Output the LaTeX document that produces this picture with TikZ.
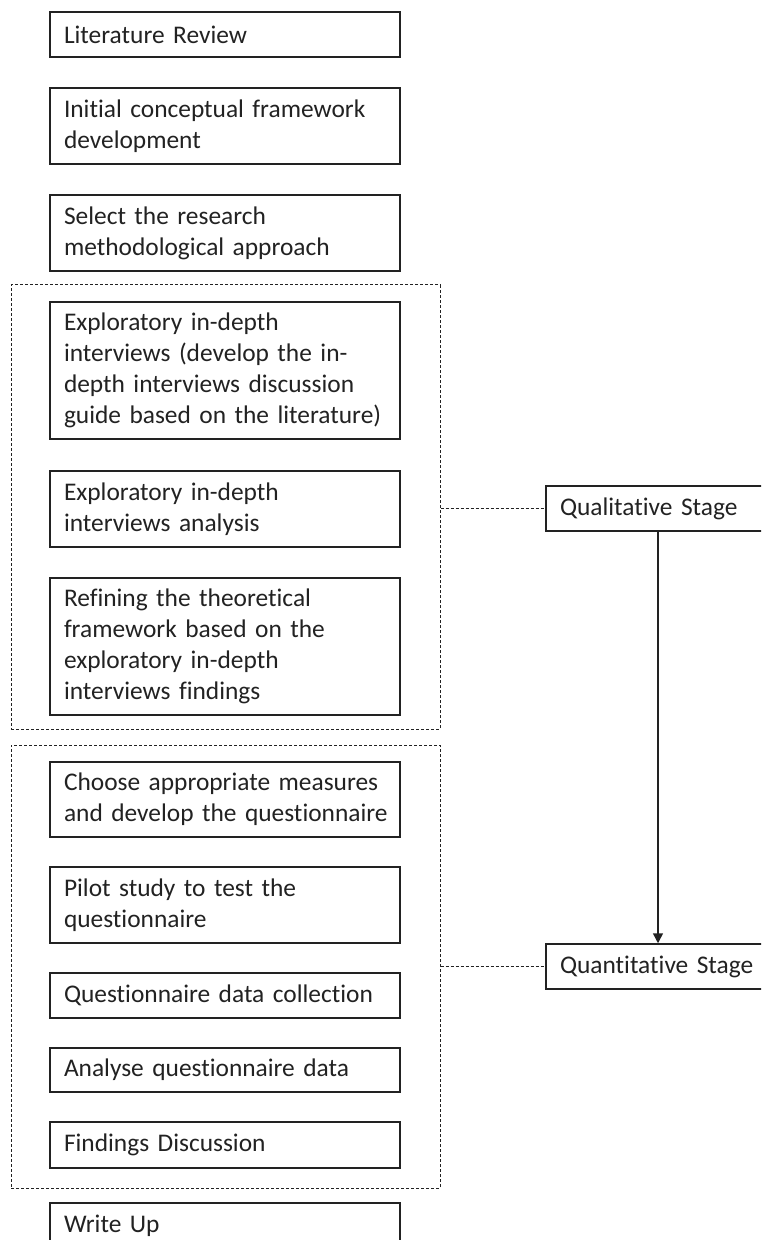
\documentclass[tikz,border=0pt]{standalone}
\usepackage{fontspec}
\setmainfont{Carlito}[Ligatures=NoCommon]
\usetikzlibrary{arrows.meta}
\definecolor{ink}{RGB}{34,34,34}
\newcommand{\nohyph}{\hyphenpenalty=10000\relax\exhyphenpenalty=10000\relax\hbadness=10000\relax\hfuzz=20pt\relax}
\begin{document}
\begin{tikzpicture}[x=0.5pt,y=-0.5pt,
  boxfont/.style={font=\fontsize{12.7}{15.5}\selectfont, execute at begin node=\nohyph},
  stepbox/.style={draw=ink, line width=0.75pt, text=ink, align=left, boxfont,
    text width=161pt, inner xsep=7pt, inner ysep=0pt, minimum width=175pt},
  stagebox/.style={draw=ink, line width=0.75pt, text=ink, align=left, boxfont,
    text width=98pt, inner xsep=7pt, inner ysep=0pt, minimum width=112pt, minimum height=22.5pt},
  groupbox/.style={draw=ink, line width=0.5pt, dash pattern=on 1.5pt off 1pt,
    minimum width=214.5pt, minimum height=222pt, inner sep=0pt},
  link/.style={draw=ink, line width=0.5pt, dash pattern=on 1.5pt off 1pt},
  flow/.style={draw=ink, line width=0.75pt, -{Triangle[length=5pt,width=5pt]}}
]
\useasboundingbox (0,0) rectangle (761,1240);
\clip (0,0) rectangle (761,1240);
\fill[white] (0,0) rectangle (761,1240);

% dashed groups
\node[groupbox] (g1) at (225.5,507) {};
\node[groupbox, minimum height=221.5pt] (g2) at (225.5,966.5) {};

% steps
\node[stepbox, minimum height=22.5pt] (lit) at (225,34.5) {Literature Review};
\node[stepbox, minimum height=38pt] (init) at (225,126) {\mbox{Initial conceptual framework}\\development};
\node[stepbox, minimum height=38pt] (sel) at (225,233) {Select the research\\methodological approach};
\node[stepbox, minimum height=68.5pt] (exp1) at (225,370.5) {Exploratory in-depth\\\mbox{interviews (develop the in-}\\\mbox{depth interviews discussion}\\\mbox{guide based on the literature)}};
\node[stepbox, minimum height=38pt] (exp2) at (225,509) {Exploratory in-depth\\interviews analysis};
\node[stepbox, minimum height=68.5pt] (ref) at (225,646.5) {Refining the theoretical\\framework based on the\\exploratory in-depth\\interviews findings};
\node[stepbox, minimum height=37.5pt] (choose) at (225,799.5) {\mbox{Choose appropriate measures}\\\mbox{and develop the questionnaire}};
\node[stepbox, minimum height=38pt] (pilot) at (225,905) {Pilot study to test the\\questionnaire};
\node[stepbox, minimum height=22.5pt] (qdc) at (225,995.5) {\mbox{Questionnaire data collection}};
\node[stepbox, minimum height=22pt] (ana) at (225,1070) {Analyse questionnaire data};
\node[stepbox, minimum height=23pt] (find) at (225,1145) {Findings Discussion};
\node[stepbox, minimum height=22.5pt] (write) at (225,1225.5) {Write Up};

% stages
\node[stagebox] (qual) at (658,508.5) {\mbox{Qualitative Stage}};
\node[stagebox] (quant) at (658,966.5) {\mbox{Quantitative Stage}};

\draw[link] (g1.east |- qual.west) -- (qual.west);
\draw[link] (g2.east |- quant.west) -- (quant.west);
\draw[flow] (qual.south) -- (quant.north);
\end{tikzpicture}
\end{document}
